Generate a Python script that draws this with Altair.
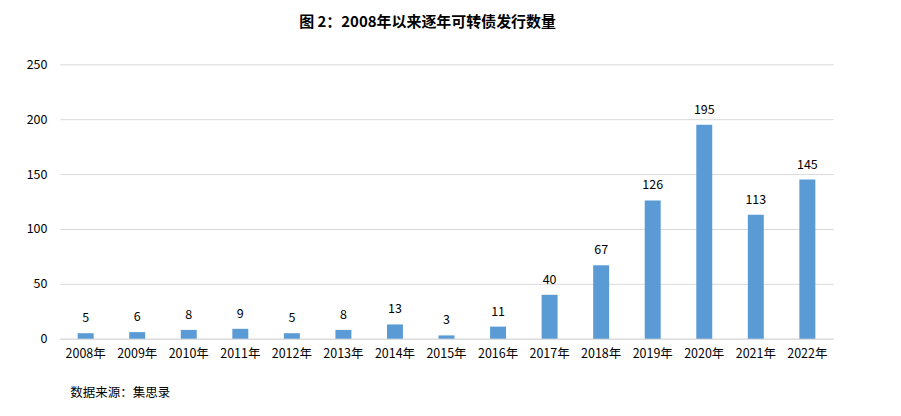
import altair as alt
import pandas as pd

years = ["2008年", "2009年", "2010年", "2011年", "2012年", "2013年", "2014年", "2015年",
         "2016年", "2017年", "2018年", "2019年", "2020年", "2021年", "2022年"]
counts = [5, 6, 8, 9, 5, 8, 13, 3, 11, 40, 67, 126, 195, 113, 145]

df = pd.DataFrame({"year": years, "count": counts})

FONT = "Noto Sans CJK SC"

base = alt.Chart(df).encode(
    x=alt.X("year:N", sort=years,
            scale=alt.Scale(paddingInner=0.69, paddingOuter=0.345),
            axis=alt.Axis(title="数据来源：集思录", titleAnchor="start", titleAlign="left",
                          titleX=10, titleY=48, titleFontWeight="normal", titleFontSize=12.5,
                          titleFont=FONT, titleColor="#000000",
                          labelAngle=0, labelFont=FONT, labelFontSize=12.5, labelColor="#000000",
                          labelPadding=9, ticks=False, domainColor="#d9d9d9", grid=False)),
    y=alt.Y("count:Q", scale=alt.Scale(domain=[0, 250]),
            axis=alt.Axis(title=None, values=[0, 50, 100, 150, 200, 250], labelFont=FONT,
                          labelFontSize=12.5, labelColor="#000000", labelPadding=13,
                          ticks=False, domain=False, gridColor="#d9d9d9")),
)

bars = base.mark_bar(color="#5B9BD5", size=16)
labels = base.mark_text(baseline="bottom", dy=-8, font=FONT, fontSize=12.5, color="#000000").encode(
    text="count:Q")

chart = (bars + labels).properties(
    width=775, height=275,
    autosize=alt.AutoSizeParams(type="none"),
    padding={"left": 52, "top": 56, "right": 60, "bottom": 66},
    title=alt.TitleParams("图 2：2008年以来逐年可转债发行数量", font=FONT, fontSize=15,
                          fontWeight="bold", color="#000000", anchor="middle", dx=-19, offset=28),
).configure_view(stroke=None)

chart.save("out.html", embed_options={"renderer": "svg", "actions": False})
